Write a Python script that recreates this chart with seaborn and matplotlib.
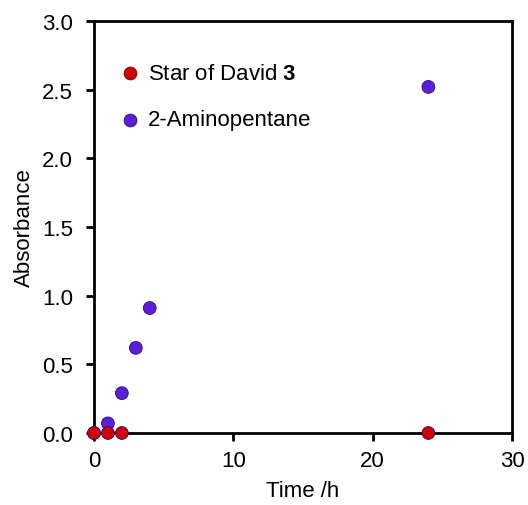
import matplotlib
matplotlib.use("Agg")
import matplotlib.pyplot as plt
import seaborn as sns
import pandas as pd

time_star = [0, 1, 2, 24]
abs_star = [0.0, 0.0, 0.0, 0.0]
time_amine = [0, 1, 2, 3, 4, 24]
abs_amine = [0.0, 0.07, 0.29, 0.62, 0.91, 2.52]
x_ticks = [0, 10, 20, 30]
y_ticks = [0.0, 0.5, 1.0, 1.5, 2.0, 2.5, 3.0]

sns.set_style("white")
plt.rcParams['font.family'] = ['Liberation Sans', 'DejaVu Sans']
plt.rcParams['mathtext.fontset'] = 'custom'
plt.rcParams['mathtext.bf'] = 'Liberation Sans:bold'
plt.rcParams['mathtext.rm'] = 'Liberation Sans'
plt.rcParams['text.color'] = 'black'
plt.rcParams['axes.labelcolor'] = 'black'

df = pd.concat([
    pd.DataFrame({"t": time_amine, "a": abs_amine, "s": "amine"}),
    pd.DataFrame({"t": time_star, "a": abs_star, "s": "star"}),
])

FS = 16
fig = plt.figure(figsize=(5.28, 5.06), dpi=100)
ax = fig.add_axes([94/528, 1-434/506, 418/528, 412/506])
sns.scatterplot(data=df, x="t", y="a", hue="s",
                palette={"amine": "#5b1fd6", "star": "#d00000"},
                s=85, edgecolor=None, linewidth=0, legend=False,
                ax=ax, clip_on=False, zorder=3)
for coll, ec in zip(ax.collections, ["#2a0a80", "#700000"]):
    coll.set_edgecolor(ec)
    coll.set_linewidth(0.6)

ax.set_xlim(0, 30)
ax.set_ylim(0, 3.0)
ax.set_xticks(x_ticks)
ax.set_yticks(y_ticks)
ax.set_yticklabels([f"{v:.1f}" for v in y_ticks])
ax.tick_params(axis='both', direction='out', length=6, width=2, labelsize=FS,
               colors='black', left=True, bottom=True)
ax.tick_params(axis='x', pad=6)
ax.tick_params(axis='y', pad=9)
for sp in ax.spines.values():
    sp.set_linewidth(2)
    sp.set_color('black')
ax.set_xlabel("Time /h", fontsize=FS, labelpad=7)
ax.set_ylabel("Absorbance", fontsize=FS, labelpad=5)

ax.scatter([2.58], [2.62], s=85, color="#d00000", edgecolor="#700000", linewidth=0.6, zorder=3)
ax.text(3.9, 2.62, "Star of David $\\mathbf{3}$", fontsize=FS, va='center')
ax.scatter([2.58], [2.28], s=85, color="#5b1fd6", edgecolor="#2a0a80", linewidth=0.6, zorder=3)
ax.text(3.9, 2.28, "2-Aminopentane", fontsize=FS, va='center')

fig.savefig("out.png", dpi=100)
